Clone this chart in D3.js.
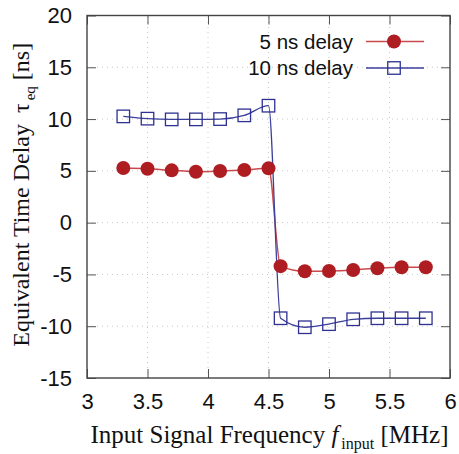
<!DOCTYPE html>
<html>
<head>
<meta charset="utf-8">
<script src="https://cdn.jsdelivr.net/npm/d3@7"></script>
<style>
  html, body { margin: 0; padding: 0; background: #fff; }
  svg { display: block; }
</style>
</head>
<body>
<svg id="chart" width="459" height="454"></svg>
<script>
// Input frequency (MHz) for each measurement
const freq = [3.3, 3.5, 3.7, 3.9, 4.1, 4.3, 4.5, 4.6, 4.8, 5.0, 5.2, 5.4, 5.6, 5.8];
// Equivalent time delay (ns)
const delay5 = [5.27, 5.2, 5.05, 4.92, 4.98, 5.08, 5.24, -4.2, -4.7, -4.67, -4.57, -4.4, -4.31, -4.31];
const delay10 = [10.26, 10.04, 9.97, 9.97, 10.0, 10.36, 11.29, -9.23, -10.1, -9.8, -9.33, -9.23, -9.23, -9.23];
const xTicks = [3, 3.5, 4, 4.5, 5, 5.5, 6];
const yTicks = [-15, -10, -5, 0, 5, 10, 15, 20];
const seriesNames = ["5 ns delay", "10 ns delay"];

const svg = d3.select("#chart");
const m = { left: 87, right: 9, top: 15.5, bottom: 76 };
const W = 459, H = 454;

const x = d3.scaleLinear().domain([3, 6]).range([m.left, W - m.right]);
const y = d3.scaleLinear().domain([-15, 20]).range([H - m.bottom, m.top]);

// plain hyphen for negative numbers
const fmt = d => String(d);

const gridColor = "#c8c8c8";
// dotted grid
svg.append("g").selectAll("line").data(xTicks.slice(1, -1)).join("line")
  .attr("x1", d => x(d)).attr("x2", d => x(d))
  .attr("y1", y(-15)).attr("y2", y(20))
  .attr("stroke", gridColor).attr("stroke-width", 1).attr("stroke-dasharray", "1,4");
svg.append("g").selectAll("line").data(yTicks.slice(1, -1)).join("line")
  .attr("x1", x(3)).attr("x2", x(6))
  .attr("y1", d => y(d)).attr("y2", d => y(d))
  .attr("stroke", gridColor).attr("stroke-width", 1).attr("stroke-dasharray", "1,4");

// inward ticks on all four sides
const tickLen = 9;
const axisColor = "#555";
const bottomAxis = d3.axisBottom(x).tickValues(xTicks).tickSize(-tickLen).tickSizeOuter(0).tickPadding(15).tickFormat(fmt);
const leftAxis = d3.axisLeft(y).tickValues(yTicks).tickSize(-tickLen).tickSizeOuter(0).tickPadding(15).tickFormat(fmt);
const topAxis = d3.axisTop(x).tickValues(xTicks).tickSize(-tickLen).tickSizeOuter(0).tickFormat("");
const rightAxis = d3.axisRight(y).tickValues(yTicks).tickSize(-tickLen).tickSizeOuter(0).tickFormat("");

function styleAxis(g) {
  g.select(".domain").remove();
  g.selectAll(".tick line").attr("stroke", axisColor).attr("stroke-width", 1);
  g.selectAll(".tick text").attr("fill", "#111")
    .style("font-family", "'Liberation Sans', Arial, sans-serif").style("font-size", "22px");
}
svg.append("g").attr("transform", `translate(0,${y(-15)})`).call(bottomAxis).call(styleAxis);
svg.append("g").attr("transform", `translate(${x(3)},0)`).call(leftAxis).call(styleAxis);
svg.append("g").attr("transform", `translate(0,${y(20)})`).call(topAxis).call(styleAxis);
svg.append("g").attr("transform", `translate(${x(6)},0)`).call(rightAxis).call(styleAxis);

// frame
svg.append("rect")
  .attr("x", x(3)).attr("y", y(20))
  .attr("width", x(6) - x(3)).attr("height", y(-15) - y(20))
  .attr("fill", "none").attr("stroke", "#444").attr("stroke-width", 1.4);

const red = "#ae1d22", redLine = "#c84a4e";
const blue = "#2e3192", blueLine = "#3b3f9a";

const line = d3.line().curve(d3.curveMonotoneX).x(d => x(d[0])).y(d => y(d[1]));
const pts5 = freq.map((f, i) => [f, delay5[i]]);
const pts10 = freq.map((f, i) => [f, delay10[i]]);

svg.append("path").datum(pts5).attr("d", line)
  .attr("fill", "none").attr("stroke", redLine).attr("stroke-width", 1.5);
svg.append("path").datum(pts10).attr("d", line)
  .attr("fill", "none").attr("stroke", blueLine).attr("stroke-width", 1.3);

svg.append("g").selectAll("circle").data(pts5).join("circle")
  .attr("cx", d => x(d[0])).attr("cy", d => y(d[1])).attr("r", 7)
  .attr("fill", red);

const sq = 12.5;
svg.append("g").selectAll("rect").data(pts10).join("rect")
  .attr("x", d => x(d[0]) - sq / 2).attr("y", d => y(d[1]) - sq / 2)
  .attr("width", sq).attr("height", sq)
  .attr("fill", "none").attr("stroke", blue).attr("stroke-width", 1.3);

// legend
const leg = svg.append("g");
const legRows = [41.5, 68];
const legText = 353, legL = 366, legR = 424, legM = 394;
leg.selectAll("text").data(seriesNames).join("text")
  .attr("x", legText).attr("y", (d, i) => legRows[i] + 7)
  .attr("text-anchor", "end").attr("fill", "#111")
  .style("font-family", "'Liberation Sans', Arial, sans-serif").style("font-size", "20.5px")
  .text(d => d);
leg.append("line").attr("x1", legL).attr("x2", legR).attr("y1", legRows[0]).attr("y2", legRows[0])
  .attr("stroke", redLine).attr("stroke-width", 1.5);
leg.append("circle").attr("cx", legM).attr("cy", legRows[0]).attr("r", 7).attr("fill", red);
leg.append("line").attr("x1", legL).attr("x2", legR).attr("y1", legRows[1]).attr("y2", legRows[1])
  .attr("stroke", blueLine).attr("stroke-width", 1.3);
leg.append("rect").attr("x", legM - sq / 2).attr("y", legRows[1] - sq / 2)
  .attr("width", sq).attr("height", sq).attr("fill", "none").attr("stroke", blue).attr("stroke-width", 1.3);

// axis titles
const serif = "'Liberation Serif', 'Times New Roman', serif";
const xt = svg.append("text")
  .attr("x", (x(3) + x(6)) / 2 + 1).attr("y", 443).attr("text-anchor", "middle")
  .attr("fill", "#111").style("font-family", serif).style("font-size", "25px");
xt.append("tspan").text("Input Signal Frequency ");
xt.append("tspan").attr("font-style", "italic").text("f");
xt.append("tspan").attr("font-size", "16px").attr("dy", 6).attr("dx", 3).text("input");
xt.append("tspan").attr("dy", -6).text(" [MHz]");

const yt = svg.append("text")
  .attr("transform", `translate(29,${(y(-15) + y(20)) / 2 - 2}) rotate(-90)`)
  .attr("text-anchor", "middle")
  .attr("fill", "#111").style("font-family", serif).style("font-size", "24px");
yt.append("tspan").text("Equivalent Time Delay ");
yt.append("tspan").attr("dx", 5).text("τ");
yt.append("tspan").attr("font-size", "15px").attr("dy", 6).attr("dx", 3).text("eq");
yt.append("tspan").attr("dy", -6).text(" [ns]");
</script>
</body>
</html>
